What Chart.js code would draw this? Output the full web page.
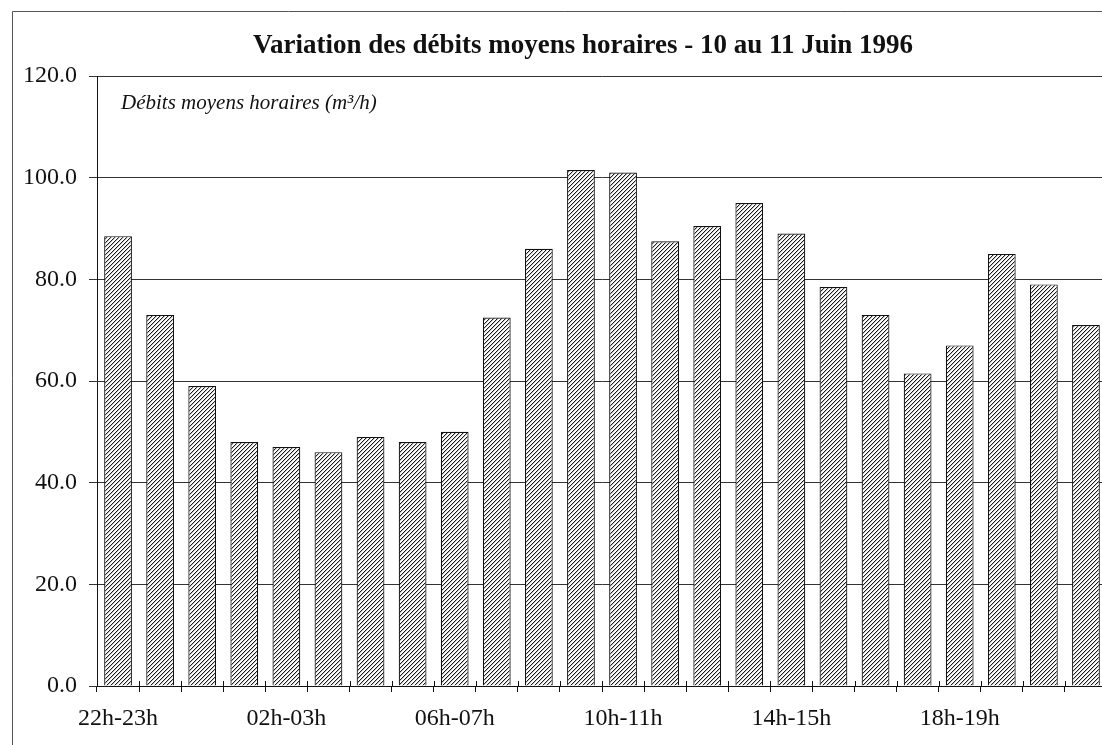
<!DOCTYPE html>
<html>
<head>
<meta charset="utf-8">
<script src="https://cdn.jsdelivr.net/npm/chart.js@4/dist/chart.umd.min.js"></script>
<style>
  html, body { margin: 0; padding: 0; background: #fff; overflow: hidden; }
  #wrap { position: relative; width: 1115px; height: 745px; }
</style>
</head>
<body>
<div id="wrap"><canvas id="chart"></canvas></div>
<script>
// hourly slots, 22h on the 10th to 22h on the 11th
const hours = [
  "22h-23h", "23h-00h", "00h-01h", "01h-02h", "02h-03h", "03h-04h",
  "04h-05h", "05h-06h", "06h-07h", "07h-08h", "08h-09h", "09h-10h",
  "10h-11h", "11h-12h", "12h-13h", "13h-14h", "14h-15h", "15h-16h",
  "16h-17h", "17h-18h", "18h-19h", "19h-20h", "20h-21h", "21h-22h",
];
// mean hourly flow (m3/h)
const debits = [
  88.5, 73, 59, 48, 47, 46, 49, 48, 50, 72.5, 86, 101.5,
  101, 87.5, 90.5, 95, 89, 78.5, 73, 61.5, 67, 85, 79, 71,
];
const yTicks = [0, 20, 40, 60, 80, 100, 120];

const titleText = "Variation des débits moyens horaires - 10 au 11 Juin 1996";
const unitText = "Débits moyens horaires (m³/h)";

const SERIF = "'Liberation Serif', 'Times New Roman', serif";
const INK = "#111";

const ctx = document.getElementById("chart").getContext("2d");

// small "/" hatch tile used as bar fill
function makeHatch() {
  const c = document.createElement("canvas");
  c.width = 4;
  c.height = 4;
  const g = c.getContext("2d");
  g.fillStyle = "#fff";
  g.fillRect(0, 0, 4, 4);
  g.fillStyle = "#1a1a1a";
  for (let i = 0; i < 4; i++) g.fillRect(i, 3 - i, 1, 1);
  g.fillStyle = "#c4c4c4";
  for (let i = 0; i < 4; i++) g.fillRect(i, (4 - i) % 4, 1, 1);
  return ctx.createPattern(c, "repeat");
}

// page frame, title, unit note and the upper half of the x ticks
const decor = {
  id: "decor",
  beforeDraw(chart) {
    const c = chart.ctx;
    c.save();
    c.fillStyle = "#fff";
    c.fillRect(0, 0, chart.width, chart.height);
    c.strokeStyle = "#555";
    c.lineWidth = 1;
    c.beginPath();
    c.moveTo(12.5, chart.height + 5);
    c.lineTo(12.5, 11.5);
    c.lineTo(chart.width + 5, 11.5);
    c.stroke();
    c.restore();
  },
  afterDraw(chart) {
    const c = chart.ctx;
    const xs = chart.scales.x;
    c.save();
    c.fillStyle = INK;
    c.textAlign = "center";
    c.textBaseline = "alphabetic";
    c.font = "bold 27px " + SERIF;
    c.fillText(titleText, 583, 53);
    c.textAlign = "left";
    c.font = "italic 21px " + SERIF;
    c.fillText(unitText, 121, 109);

    c.strokeStyle = INK;
    c.lineWidth = 1;
    const step = xs.width / hours.length;
    c.beginPath();
    for (let i = 1; i <= hours.length; i++) {
      const x = Math.round(xs.left + i * step) + 0.5;
      c.moveTo(x, xs.top - 5);
      c.lineTo(x, xs.top);
    }
    c.stroke();
    c.restore();
  },
};

new Chart(ctx, {
  type: "bar",
  data: {
    labels: hours,
    datasets: [
      {
        label: "Débits moyens horaires",
        data: debits,
        backgroundColor: makeHatch(),
        borderColor: INK,
        borderWidth: 1.2,
        borderSkipped: "bottom",
        categoryPercentage: 1,
        barPercentage: 0.66,
      },
    ],
  },
  options: {
    responsive: true,
    maintainAspectRatio: false,
    devicePixelRatio: 1,
    animation: false,
    layout: { padding: { top: 76, right: 8, left: 0, bottom: 0 } },
    plugins: {
      legend: { display: false },
      title: { display: false },
      tooltip: { enabled: false },
    },
    scales: {
      x: {
        offset: true,
        afterFit(scale) {
          scale.height = 59;
        },
        grid: {
          display: true,
          offset: true,
          drawOnChartArea: false,
          tickLength: 6,
          color: INK,
        },
        border: { display: true, color: INK, width: 1 },
        ticks: {
          autoSkip: false,
          maxRotation: 0,
          color: INK,
          padding: 12,
          font: { family: SERIF, size: 24 },
          callback: (v, i) => (i % 4 === 0 ? hours[i] : ""),
        },
      },
      y: {
        min: 0,
        max: 120,
        afterFit(scale) {
          scale.width = 97;
        },
        afterBuildTicks(scale) {
          scale.ticks = yTicks.map((v) => ({ value: v }));
        },
        grid: {
          color: "#333",
          lineWidth: 1,
          tickLength: 8,
        },
        border: { display: true, color: INK, width: 1 },
        ticks: {
          color: INK,
          padding: 12,
          font: { family: SERIF, size: 24 },
          callback: (v) => Number(v).toFixed(1),
        },
      },
    },
  },
  plugins: [decor],
});
</script>
</body>
</html>
